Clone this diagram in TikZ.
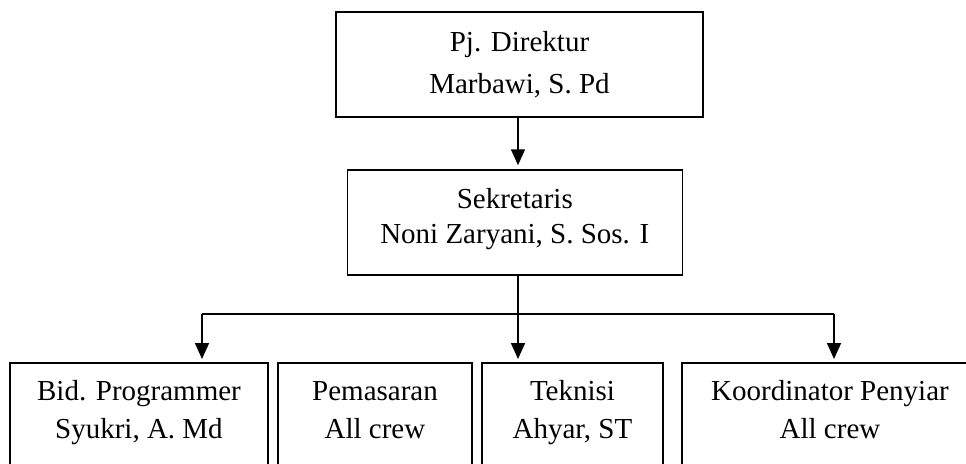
\documentclass[tikz,border=0pt]{standalone}
\usepackage{fontspec}
\setmainfont{Liberation Serif}
\usetikzlibrary{arrows.meta}
\tikzset{
  box/.style={draw, line width=1.5pt, inner sep=0pt, align=center},
  lowbox/.style={inner sep=0pt, align=center, anchor=north,
    font=\fontsize{29}{38}\selectfont, minimum height=97pt},
  edge/.style={line width=1.6pt},
  arr/.style={edge, -{Triangle[width=14pt,length=16pt]}, shorten >=4pt},
  side/.style={line width=1.5pt}
}
\begin{document}
\begin{tikzpicture}[x=1pt,y=-1pt]
\useasboundingbox (0,0) rectangle (966,463);
\clip (0,0) rectangle (966,463);
% top boxes
\node[box, minimum width=367pt, minimum height=105pt, font=\fontsize{29}{42}\selectfont] (dir) at (519.5,64.5)
  {\strut Pj. Direktur\strut\\\strut Marbawi, S. Pd\strut};
\node[box, minimum width=335pt, minimum height=105pt, font=\fontsize{29}{35}\selectfont] (sek) at (514.8,222.5)
  {\strut Sekretaris\\\strut Noni Zaryani, S. Sos. I\rule[-18pt]{0pt}{1pt}};
% bottom boxes (cut by the page bottom)
\node[lowbox, minimum width=258pt] (b1) at (139,363) {\strut Bid. Programmer\\\strut Syukri, A. Md\strut};
\node[lowbox, minimum width=194pt] (b2) at (375,363) {\strut Pemasaran\\\strut All crew\strut};
\node[lowbox, minimum width=181pt] (b3) at (572.5,363) {\strut Teknisi\\\strut Ahyar, ST\strut};
\node[lowbox, minimum width=296pt] (b4) at (830,363) {\strut Koordinator Penyiar\\\strut All crew\strut};
\foreach \b in {b1,b2,b3,b4}{
  \draw[side] ([yshift=-30pt]\b.south west) -- (\b.north west) -- (\b.north east) -- ([yshift=-30pt]\b.south east);
}
% connectors
\coordinate (j) at (518,314);
\coordinate (jl) at (202,314);
\coordinate (jr) at (834,314);
\draw[arr] (dir.south -| j) -- (j |- sek.north);
\draw[edge] (sek.south -| j) -- (j);
\draw[edge] (jl) -- (jr);
\draw[arr] (jl) -- (jl |- b1.north);
\draw[arr] (j) -- (j |- b3.north);
\draw[arr] (jr) -- (jr |- b4.north);
\end{tikzpicture}
\end{document}
